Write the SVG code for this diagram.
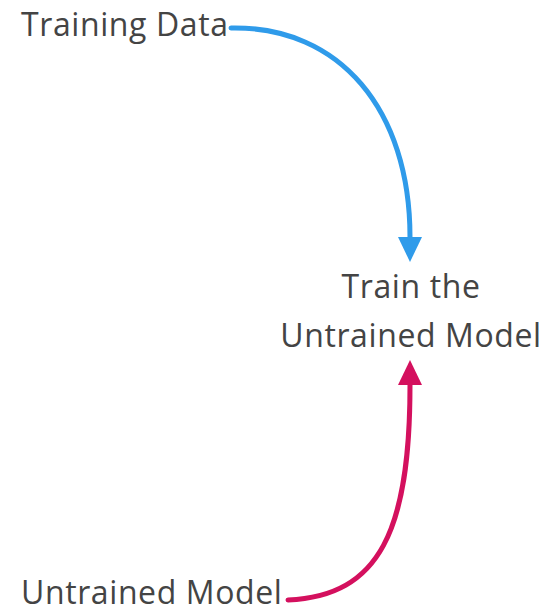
<svg xmlns="http://www.w3.org/2000/svg" width="552" height="614" viewBox="0 0 552 614">
<style>
text{font-family:"Open Sans","Noto Sans",sans-serif;font-size:32px;letter-spacing:0.6px;fill:#444}
.c{fill:none;stroke-width:5;stroke-linecap:round}
</style>
<defs>
<marker id="hb" markerUnits="userSpaceOnUse" markerWidth="26" markerHeight="26" refX="0" refY="13" orient="auto" viewBox="0 0 26 26"><path d="M0 1L25 13L0 25Z" fill="#2f9bea"/></marker>
<marker id="hp" markerUnits="userSpaceOnUse" markerWidth="26" markerHeight="26" refX="0" refY="13" orient="auto" viewBox="0 0 26 26"><path d="M0 1L25 13L0 25Z" fill="#d4105e"/></marker>
</defs>
<rect width="552" height="614" fill="#fff"/>
<g id="connectors">
<path class="c" d="M231 28C340 26 410 110 410 237" stroke="#2f9bea" marker-end="url(#hb)"/>
<path class="c" d="M288 600C380 596 410 530 410 385" stroke="#d4105e" marker-end="url(#hp)"/>
</g>
<g id="training-data"><text x="21" y="36">Training Data</text></g>
<g id="train"><text x="411" y="298" text-anchor="middle">Train the</text><text x="411" y="347" text-anchor="middle">Untrained Model</text></g>
<g id="untrained-model"><text x="21" y="604">Untrained Model</text></g>
</svg>
